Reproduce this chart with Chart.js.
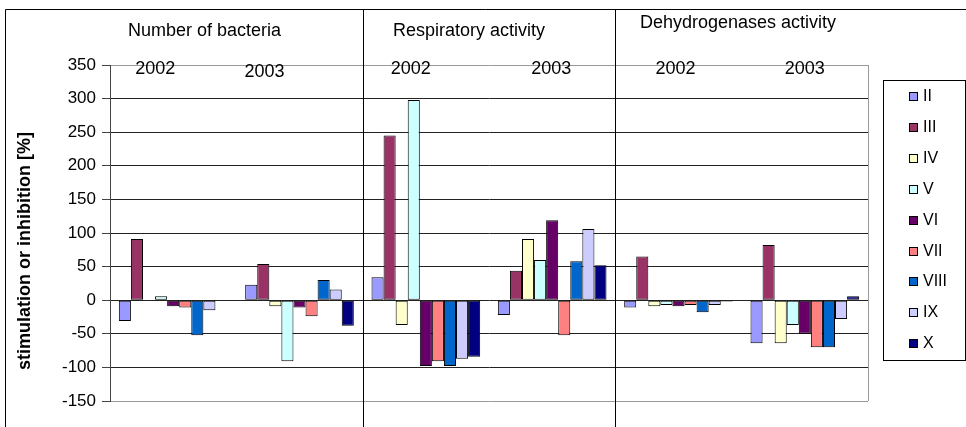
<!DOCTYPE html>
<html>
<head>
<meta charset="utf-8">
<script src="https://cdn.jsdelivr.net/npm/chart.js@4.4.1/dist/chart.umd.min.js"></script>
<style>
  html, body { margin: 0; padding: 0; background: #fff; }
</style>
</head>
<body>
<canvas id="bacteriaChart" width="966" height="427"></canvas>
<script>
// groups: measure / year
const categories = ['NB 2002', 'NB 2003', 'RA 2002', 'RA 2003', 'DA 2002', 'DA 2003'];
const headers = ['Number of bacteria', 'Respiratory activity', 'Dehydrogenases activity'];
const years = ['2002', '2003', '2002', '2003', '2002', '2003'];
const seriesNames = ['II', 'III', 'IV', 'V', 'VI', 'VII', 'VIII', 'IX', 'X'];
const seriesColors = ['#9999FF', '#993366', '#FFFFCC', '#CCFFFF', '#660066', '#FF8080', '#0066CC', '#CCCCFF', '#000080'];

// stimulation or inhibition [%]
const valuesII   = [-31,  23,  34, -22, -11, -64];
const valuesIII  = [ 91,  54, 245,  44,  65,  82];
const valuesIV   = [  0,  -9, -37,  91,  -9, -64];
const valuesV    = [  6, -91, 298,  60,  -7, -37];
const valuesVI   = [ -9, -11, -98, 119,  -9, -50];
const valuesVII  = [-11, -24, -91, -52,  -7, -70];
const valuesVIII = [-52,  30, -98,  58, -18, -70];
const valuesIX   = [-15,  16, -87, 106,  -7, -28];
const valuesX    = [  0, -38, -84,  52,  -2,   6];
const seriesValues = [valuesII, valuesIII, valuesIV, valuesV, valuesVI, valuesVII, valuesVIII, valuesIX, valuesX];

const yTicks = { min: -150, max: 350, step: 50 };

const FONT = "'Liberation Sans', Arial, sans-serif";

// frame, dividers, headers, years, axis title
const framePlugin = {
    id: 'frame',
    afterDraw(chart) {
        const ctx = chart.ctx;
        const area = chart.chartArea;
        const xs = chart.scales.x;
        ctx.save();

        // right edge of plot area
        ctx.strokeStyle = '#999';
        ctx.lineWidth = 1;
        ctx.beginPath();
        ctx.moveTo(Math.round(area.right) + 0.5, area.top);
        ctx.lineTo(Math.round(area.right) + 0.5, area.bottom);
        ctx.stroke();

        // outer table frame
        ctx.strokeStyle = '#000';
        ctx.beginPath();
        ctx.moveTo(5.5, 427);
        ctx.lineTo(5.5, 9.5);
        ctx.lineTo(966, 9.5);
        [1, 3].forEach(function(i) {
            const px = Math.round((xs.getPixelForValue(i) + xs.getPixelForValue(i + 1)) / 2) + 0.5;
            ctx.moveTo(px, 9.5);
            ctx.lineTo(px, 427);
        });
        ctx.stroke();

        // headers
        ctx.fillStyle = '#000';
        ctx.textBaseline = 'middle';
        ctx.textAlign = 'left';
        ctx.font = '18px ' + FONT;
        const headerPos = [[128, 31], [393, 31], [640, 23]];
        headers.forEach(function(h, i) {
            ctx.fillText(h, headerPos[i][0], headerPos[i][1]);
        });

        // year labels
        ctx.textAlign = 'center';
        const yearShift = [-18, -35, -15, -1, -3, 0];
        const yearY = [69, 72, 69, 69, 69, 69];
        years.forEach(function(y, i) {
            ctx.fillText(y, xs.getPixelForValue(i) + yearShift[i], yearY[i]);
        });

        // y axis title
        ctx.save();
        ctx.translate(25, 251);
        ctx.rotate(-Math.PI / 2);
        ctx.font = 'bold 18px ' + FONT;
        ctx.fillText('stimulation or inhibition [%]', 0, 0);
        ctx.restore();

        ctx.restore();
    }
};

// legend box on the right
const legendPlugin = {
    id: 'legendBox',
    afterDraw(chart) {
        const ctx = chart.ctx;
        ctx.save();
        ctx.strokeStyle = '#000';
        ctx.lineWidth = 1;
        ctx.strokeRect(883.5, 80.5, 82, 280);
        ctx.font = '16px ' + FONT;
        ctx.textBaseline = 'middle';
        ctx.textAlign = 'left';
        chart.data.datasets.forEach(function(ds, i) {
            const y = Math.round(96 + i * 30.9);
            ctx.fillStyle = ds.backgroundColor;
            ctx.fillRect(909, y - 4, 9, 9);
            ctx.strokeRect(909.5, y - 3.5, 8, 8);
            ctx.fillStyle = '#000';
            ctx.fillText(ds.label, 923, y + 1);
        });
        ctx.restore();
    }
};

function initChart() {
    const canvas = document.getElementById('bacteriaChart');
    if (typeof Chart === 'undefined') {
        console.error('Chart.js is not loaded');
        return;
    }

    const datasets = seriesNames.map(function(name, i) {
        return {
            label: name,
            data: seriesValues[i],
            backgroundColor: seriesColors[i],
            borderColor: '#000',
            borderWidth: 1,
            borderSkipped: false,
            categoryPercentage: 0.86,
            barPercentage: 1.0
        };
    });

    new Chart(canvas, {
        type: 'bar',
        data: { labels: categories, datasets: datasets },
        options: {
            responsive: false,
            animation: false,
            layout: { padding: { left: 0, top: 65, right: 98, bottom: 26 } },
            plugins: {
                legend: { display: false },
                tooltip: { enabled: false }
            },
            scales: {
                x: { display: false },
                y: {
                    min: yTicks.min,
                    max: yTicks.max,
                    afterFit: function(scale) { scale.width = 110; },
                    ticks: {
                        stepSize: yTicks.step,
                        color: '#000',
                        padding: 6,
                        font: { family: FONT, size: 17 }
                    },
                    grid: {
                        color: function(c) {
                            const v = c.tick ? c.tick.value : 0;
                            return (v === yTicks.max || v === yTicks.min) ? '#999' : '#222';
                        },
                        tickColor: '#444',
                        tickLength: 8
                    },
                    border: { color: '#444', width: 1 }
                }
            }
        },
        plugins: [framePlugin, legendPlugin]
    });
}

initChart();
</script>
</body>
</html>
